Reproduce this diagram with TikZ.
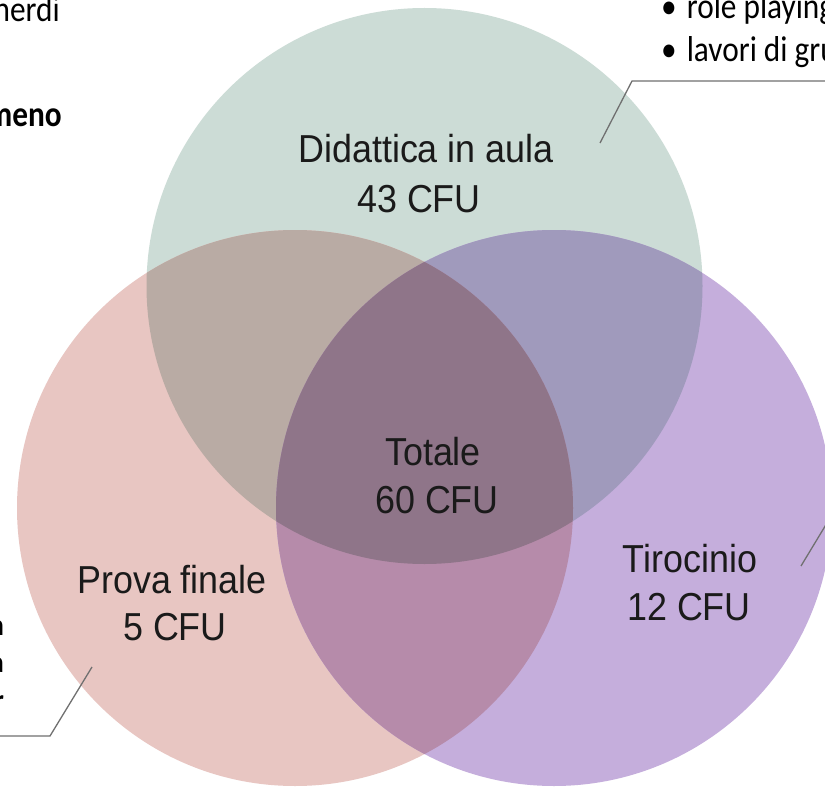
\documentclass[tikz,border=0pt]{standalone}
\usepackage{fontspec}
\newfontfamily\labelfont[FakeStretch=0.92]{Liberation Sans}
\newfontfamily\sidefont[FakeStretch=0.87]{Carlito}
\definecolor{cGreen}{HTML}{CCDCD6}
\definecolor{cPink}{HTML}{E8C6C2}
\definecolor{cPurple}{HTML}{C5AEDC}
\definecolor{cGP}{HTML}{B9ABA4}
\definecolor{cGU}{HTML}{A09ABC}
\definecolor{cPU}{HTML}{B68BAA}
\definecolor{cAll}{HTML}{8F7589}
\definecolor{leadergray}{HTML}{707070}
\definecolor{txt}{HTML}{1A1A1A}
\begin{document}
\begin{tikzpicture}[x=1pt,y=-1pt,
  lbl/.style={font=\labelfont\fontsize{39}{47}\selectfont, text=txt, inner sep=0pt, anchor=base},
  side/.style={font=\sidefont\fontsize{36}{44}\selectfont, text=black, inner sep=0pt},
  sidebold/.style={font=\sidefont\bfseries\fontsize{36}{44}\selectfont, text=black, inner sep=0pt},
  sliver/.style={font=\sidefont\bfseries\fontsize{30}{36}\selectfont, text=black, inner sep=0pt, anchor=base east},
  leader/.style={draw=leadergray, line width=1.3pt}]
\useasboundingbox (0,0) rectangle (825,789);
\clip (0,0) rectangle (825,789);
\fill[white] (0,0) rectangle (825,789);
\coordinate (cT) at (424.5,286);
\coordinate (cL) at (295,508);
\coordinate (cR) at (554,508);
% base circles
\fill[cGreen] (cT) circle[radius=278pt];
\fill[cPink] (cL) circle[radius=278pt];
\fill[cPurple] (cR) circle[radius=278pt];
% pairwise overlaps
\begin{scope}
  \clip (cT) circle[radius=278pt];
  \fill[cGP] (cL) circle[radius=278pt];
  \fill[cGU] (cR) circle[radius=278pt];
\end{scope}
\begin{scope}
  \clip (cL) circle[radius=278pt];
  \fill[cPU] (cR) circle[radius=278pt];
\end{scope}
% triple overlap
\begin{scope}
  \clip (cT) circle[radius=278pt];
  \clip (cL) circle[radius=278pt];
  \fill[cAll] (cR) circle[radius=278pt];
\end{scope}
% labels
\node[lbl] (did1) at (426,163) {Didattica in aula};
\node[lbl] (did2) at (419,212) {43 CFU};
\node[lbl] (tot1) at (433,465) {Totale};
\node[lbl] (tot2) at (437,513) {60 CFU};
\node[lbl] (pro1) at (172,593) {Prova finale};
\node[lbl] (pro2) at (175,640) {5 CFU};
\node[lbl] (tir1) at (690,572) {Tirocinio};
\node[lbl] (tir2) at (689,620) {12 CFU};
% side texts (cut by the frame, as in the reference)
\node[side, anchor=base east] (venerdi) at (60,22) {venerdi};
\node[sidebold, anchor=base east] (almeno) at (62,127) {almeno};
\node[side, anchor=base west] (role) at (661,19) {\textbullet\hspace{10pt}role playing};
\node[side, anchor=base west] (lavori) at (661,62) {\textbullet\hspace{10pt}lavori di gruppo};
\node[sliver] (s1) at (4,635) {n};
\node[sliver] (s2) at (4,672) {a};
\node[sliver] (s3) at (4,710) {r};
% leader lines
\coordinate (a1) at (600,143);
\coordinate (a2) at (632,81);
\coordinate (a3) at (830,81);
\draw[leader] (a1) -- (a2) -- (a3);
\coordinate (b1) at (92,667);
\coordinate (b2) at (50,736);
\coordinate (b3) at (-5,736);
\draw[leader] (b1) -- (b2) -- (b3);
\coordinate (c1) at (801,566);
\coordinate (c2) at (830,518);
\draw[leader] (c1) -- (c2);
\end{tikzpicture}
\end{document}
